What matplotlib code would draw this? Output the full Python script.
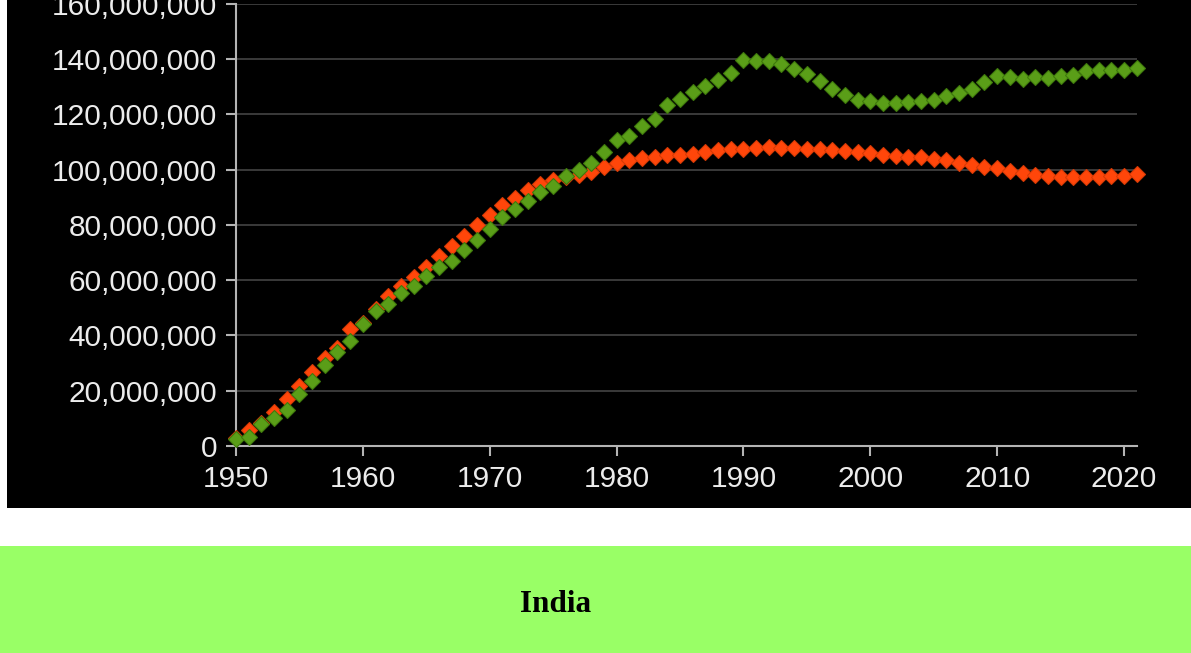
import numpy as np
import matplotlib
matplotlib.use("Agg")
import matplotlib.pyplot as plt
from matplotlib.patches import Rectangle
from matplotlib.ticker import FuncFormatter

years = list(range(1950, 2022))

# millions
green_vals = [2.4, 3.3, 7.8, 10.2, 12.9, 18.9, 23.5, 29.2, 34.1, 38.0,
              44.2, 49.0, 51.4, 55.3, 58.0, 61.4, 64.8, 66.8, 70.8, 74.6,
              78.6, 82.8, 85.6, 88.7, 91.8, 94.0, 97.6, 99.8, 102.4, 106.3,
              110.6, 112.3, 115.7, 118.4, 123.5, 125.5, 128.0, 130.4, 132.3, 135.0,
              139.5, 139.4, 139.2, 138.3, 136.4, 134.7, 131.9, 129.2, 126.9, 125.1,
              124.7, 124.1, 124.1, 124.5, 124.7, 125.3, 126.5, 127.7, 129.3, 131.7,
              134.0, 133.5, 132.8, 133.5, 133.1, 134.0, 134.3, 135.8, 135.9, 135.9,
              136.1, 136.7]
orange_vals = [2.9, 5.7, 8.2, 12.4, 16.9, 21.7, 26.7, 31.9, 35.5, 42.2,
               44.4, 49.4, 54.3, 58.0, 61.2, 64.8, 68.9, 72.2, 76.0, 80.0,
               83.6, 87.2, 89.8, 92.6, 94.8, 96.2, 97.2, 98.2, 99.0, 101.0,
               102.2, 103.3, 104.2, 104.6, 105.1, 105.4, 105.8, 106.3, 106.9, 107.3,
               107.5, 107.7, 108.0, 107.8, 107.8, 107.6, 107.5, 107.2, 106.6, 106.4,
               106.0, 105.4, 104.8, 104.6, 104.4, 104.0, 103.3, 102.4, 101.8, 101.0,
               100.4, 99.4, 98.8, 98.2, 97.8, 97.3, 97.2, 97.2, 97.3, 97.6,
               97.8, 98.4]
y_ticks = list(range(0, 160000001, 20000000))
x_ticks = list(range(1950, 2021, 10))
title = "India"

W, H = 1191, 653
fig = plt.figure(figsize=(W / 100, H / 100), dpi=100, facecolor="white")

# black chart panel and green caption band
fig.add_artist(Rectangle((7 / W, 145 / H), 1 - 7 / W, 508 / H,
                         transform=fig.transFigure, facecolor="black", edgecolor="none", zorder=0))
fig.add_artist(Rectangle((0, 0), 1, 107 / H,
                         transform=fig.transFigure, facecolor="#99ff66", edgecolor="none", zorder=0))
fig.text(556 / W, 1 - 604 / H, title, ha="center", va="center",
         fontsize=22.5, fontweight="bold", family="Liberation Serif", color="black")

ax = fig.add_axes([236 / W, 207 / H, (1136.7 - 236) / W, (446 - 3.7) / H])
ax.set_facecolor("black")
ax.set_xlim(1950, 2021)
ax.set_ylim(0, 160000000)

ax.plot(years, np.array(orange_vals) * 1e6, ls="none", marker="D", ms=8,
        color="#ff460a", mec="#d83a05", mew=0.8, clip_on=False, zorder=3)
ax.plot(years, np.array(green_vals) * 1e6, ls="none", marker="D", ms=8,
        color="#5a9e18", mec="#3f7a0c", mew=0.8, clip_on=False, zorder=4)

ax.set_yticks(y_ticks)
ax.set_xticks(x_ticks)
ax.yaxis.set_major_formatter(FuncFormatter(lambda v, p: f"{int(v):,}"))
ax.grid(axis="y", color="#3a3a3a", lw=1.4)
ax.grid(axis="x", visible=False)
ax.set_axisbelow(True)

for s in ("top", "right"):
    ax.spines[s].set_visible(False)
for s in ("left", "bottom"):
    ax.spines[s].set_color("#b4b4b4")
    ax.spines[s].set_linewidth(1.5)

ax.tick_params(colors="#b4b4b4", labelcolor="#ececec", length=7.5, width=1.5,
               direction="out", labelsize=21.5)
ax.tick_params(axis="y", pad=6)
ax.tick_params(axis="x", pad=6)
for lab in ax.get_xticklabels() + ax.get_yticklabels():
    lab.set_family("Liberation Sans")

fig.savefig("out.png", dpi=100, facecolor="white")
